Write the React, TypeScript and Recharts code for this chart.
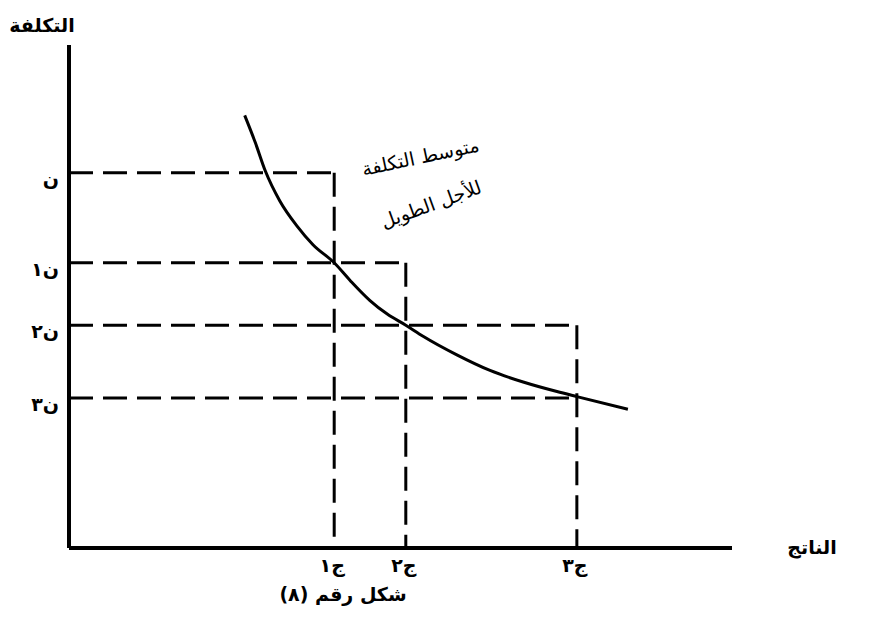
import React from 'react';
import { ComposedChart, Line, XAxis, YAxis, ReferenceLine, ReferenceDot } from 'recharts';

const outputTicks = [40, 50.8, 76.6];
const outputLabels = ['ج١', 'ج٢', 'ج٣'];
const costTicks = [74.6, 56.7, 44.3, 29.8];
const costLabels = ['ن', 'ن١', 'ن٢', 'ن٣'];
const curveOutput = [26.5, 28.1, 29.6, 31.8, 34.4, 36.8, 40.0, 42.4, 45.4, 48.0, 50.8, 53.4, 58.5, 63.5, 68.5, 73.6, 76.6, 84.3];
const curveCost = [86.0, 80.6, 75.0, 69.0, 64.0, 60.3, 56.7, 53.2, 49.2, 46.5, 44.3, 42.1, 38.4, 35.3, 33.0, 31.1, 30.1, 27.6];
const costLevelReach = [40, 50.8, 76.6, 76.6];
const outputLevelReach = [74.6, 56.7, 44.3];
const curveName = ['متوسط التكلفة', 'للأجل الطويل'];
const curveNamePos = [
  { x: 53.0, y: 77.8 },
  { x: 54.6, y: 68.4 },
];
const curveNameTilt = [-12, -20];
const yTitle = 'التكلفة';
const xTitle = 'الناتج';
const caption = 'شكل رقم (٨)';

const FONT = '"DejaVu Sans", sans-serif';
const curveData = curveOutput.map((x, i) => ({ x, y: curveCost[i] }));

const YTick = (p: any) => {
  const i = costTicks.indexOf(p.payload.value);
  return (
    <text x={p.x - 10} y={p.y + 6} textAnchor="end" dominantBaseline="central" fontSize={19} fontFamily={FONT} fontWeight="bold" fill="#000">
      {costLabels[i]}
    </text>
  );
};

const XTick = (p: any) => {
  const i = outputTicks.indexOf(p.payload.value);
  return (
    <text x={p.x - 2} y={p.y + 24} textAnchor="middle" fontSize={19} fontFamily={FONT} fontWeight="bold" fill="#000">
      {outputLabels[i]}
    </text>
  );
};

const CurveLabel = (props: any) => {
  const vb = props.viewBox || {};
  const cx = vb.x + (vb.width || 0) / 2;
  const cy = vb.y + (vb.height || 0) / 2;
  return (
    <g transform={`rotate(${props.tilt} ${cx} ${cy})`}>
      <text x={cx} y={cy} textAnchor="middle" dominantBaseline="central" fontSize={19} fontFamily={FONT} fill="#000" direction="rtl">
        {props.text}
      </text>
    </g>
  );
};

const dash = '24 10';

export default function App() {
  return (
    <div style={{ position: 'absolute', left: 0, top: 0, width: 874, height: 620, background: '#fff' }}>
      <ComposedChart width={874} height={620} margin={{ top: 45, right: 142, bottom: 0, left: 0 }}>
        <XAxis type="number" dataKey="x" domain={[0, 100]} ticks={outputTicks} height={72}
          axisLine={{ stroke: '#000', strokeWidth: 4 }} tickLine={false} tickSize={0} tickMargin={0} tick={<XTick />} />
        <YAxis type="number" dataKey="y" domain={[0, 100]} ticks={costTicks} width={69}
          axisLine={{ stroke: '#000', strokeWidth: 4 }} tickLine={false} tickSize={0} tickMargin={0} tick={<YTick />} />
        {costTicks.map((c, i) => (
          <ReferenceLine key={'h' + i} segment={[{ x: 0, y: c }, { x: costLevelReach[i], y: c }]}
            stroke="#000" strokeWidth={3} strokeDasharray={dash} />
        ))}
        {outputTicks.map((q, i) => (
          <ReferenceLine key={'v' + i} segment={[{ x: q, y: outputLevelReach[i] }, { x: q, y: 0 }]}
            stroke="#000" strokeWidth={3} strokeDasharray={dash} />
        ))}
        <Line data={curveData} dataKey="y" type="monotone" stroke="#000" strokeWidth={3} dot={false} isAnimationActive={false} />
        {curveName.map((t, i) => (
          <ReferenceDot key={'l' + i} x={curveNamePos[i].x} y={curveNamePos[i].y} r={1} fill="none" stroke="none"
            label={<CurveLabel text={t} tilt={curveNameTilt[i]} />} />
        ))}
      </ComposedChart>
      <div style={{ position: 'absolute', left: 0, top: 14, width: 84, textAlign: 'center', fontFamily: FONT, fontSize: 19, fontWeight: 'bold', direction: 'rtl' }}>{yTitle}</div>
      <div style={{ position: 'absolute', left: 770, top: 536, width: 84, textAlign: 'center', fontFamily: FONT, fontSize: 19, fontWeight: 'bold', direction: 'rtl' }}>{xTitle}</div>
      <div style={{ position: 'absolute', left: 243, top: 583, width: 200, textAlign: 'center', fontFamily: FONT, fontSize: 19, fontWeight: 'bold', direction: 'rtl' }}>{caption}</div>
    </div>
  );
}
